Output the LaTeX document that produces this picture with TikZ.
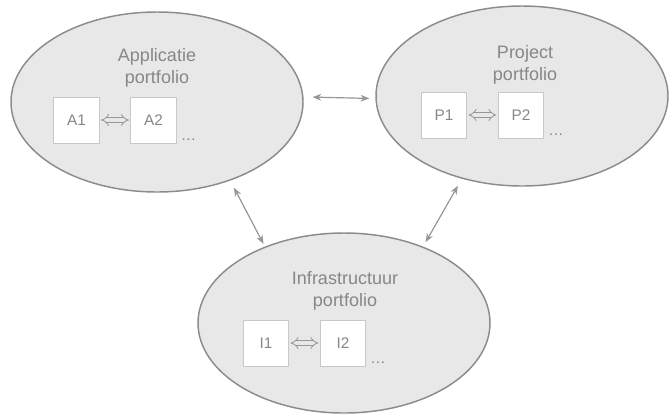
\documentclass[tikz,border=0pt]{standalone}
\usepackage{fontspec}
\setmainfont{Liberation Sans}
\usepackage{tikz}
\usetikzlibrary{arrows.meta,shapes.geometric,positioning}

\definecolor{ellfill}{RGB}{232,232,232}
\definecolor{elldraw}{RGB}{140,140,140}
\definecolor{txtgray}{RGB}{135,135,135}
\definecolor{boxdraw}{RGB}{200,200,200}
\definecolor{linkgray}{RGB}{150,150,150}

\begin{document}
\begin{tikzpicture}[
        x=0.75pt, y=-0.75pt,
        portfolio/.style={ellipse, draw=elldraw, fill=ellfill, line width=1.1pt,
          minimum width=219pt, minimum height=135pt, inner sep=0pt},
        title/.style={align=center, text=txtgray, inner sep=0pt,
          font=\fontsize{13.5}{16}\selectfont},
        item/.style={draw=boxdraw, fill=white, line width=0.7pt, text=txtgray,
          minimum width=34pt, minimum height=34.5pt, inner sep=0pt,
          font=\fontsize{11.5}{13}\selectfont},
        more/.style={anchor=base west, text=txtgray, inner sep=0pt,
          font=\fontsize{11.5}{13}\selectfont},
        pair/.style={draw=linkgray, line width=0.6pt, double=ellfill, double distance=2.6pt,
          {Implies}-{Implies}, shorten <=1pt, shorten >=1pt},
        link/.style={draw=linkgray, line width=0.9pt,
          {Stealth[length=6.5pt,width=5pt,inset=2pt]}-{Stealth[length=6.5pt,width=5pt,inset=2pt]}}
      ]
        \useasboundingbox (0,0) rectangle (670,415);

        % the three portfolios
        \node[portfolio] (app) at (157,102) {};
        \node[portfolio] (proj) at (522,96) {};
        \node[portfolio] (infra) at (344,323) {};

        \node[title] (apptitle) at (157,68) {Applicatie\\portfolio};
        \node[title] (projtitle) at (525,65) {Project\\portfolio};
        \node[title] (infratitle) at (345,291) {Infrastructuur\\portfolio};

        % items inside each portfolio
        \node[item] (a1) at (76.5,120) {A1};
        \node[item, right=23pt of a1] (a2) {A2};
        \node[more] (adots) at ([shift={(4,-3)}]a2.south east) {\dots};

        \node[item] (p1) at (444,115) {P1};
        \node[item, right=23pt of p1] (p2) {P2};
        \node[more] (pdots) at ([shift={(4,-3)}]p2.south east) {\dots};

        \node[item] (i1) at (266,343) {I1};
        \node[item, right=23pt of i1] (i2) {I2};
        \node[more] (idots) at ([shift={(4,-3)}]i2.south east) {\dots};

        \draw[pair] (a1) -- (a2);
        \draw[pair] (p1) -- (p2);
        \draw[pair] (i1) -- (i2);

        % links between portfolios
        \draw[link, shorten <=6.75pt, shorten >=4.5pt] (app.2) -- (proj.181);
        \draw[link, shorten <=6pt, shorten >=2.25pt] (app.-47) -- (infra.136);
        \draw[link, shorten <=6pt, shorten >=3.75pt] (proj.-126) -- (infra.44);
      \end{tikzpicture}
\end{document}
